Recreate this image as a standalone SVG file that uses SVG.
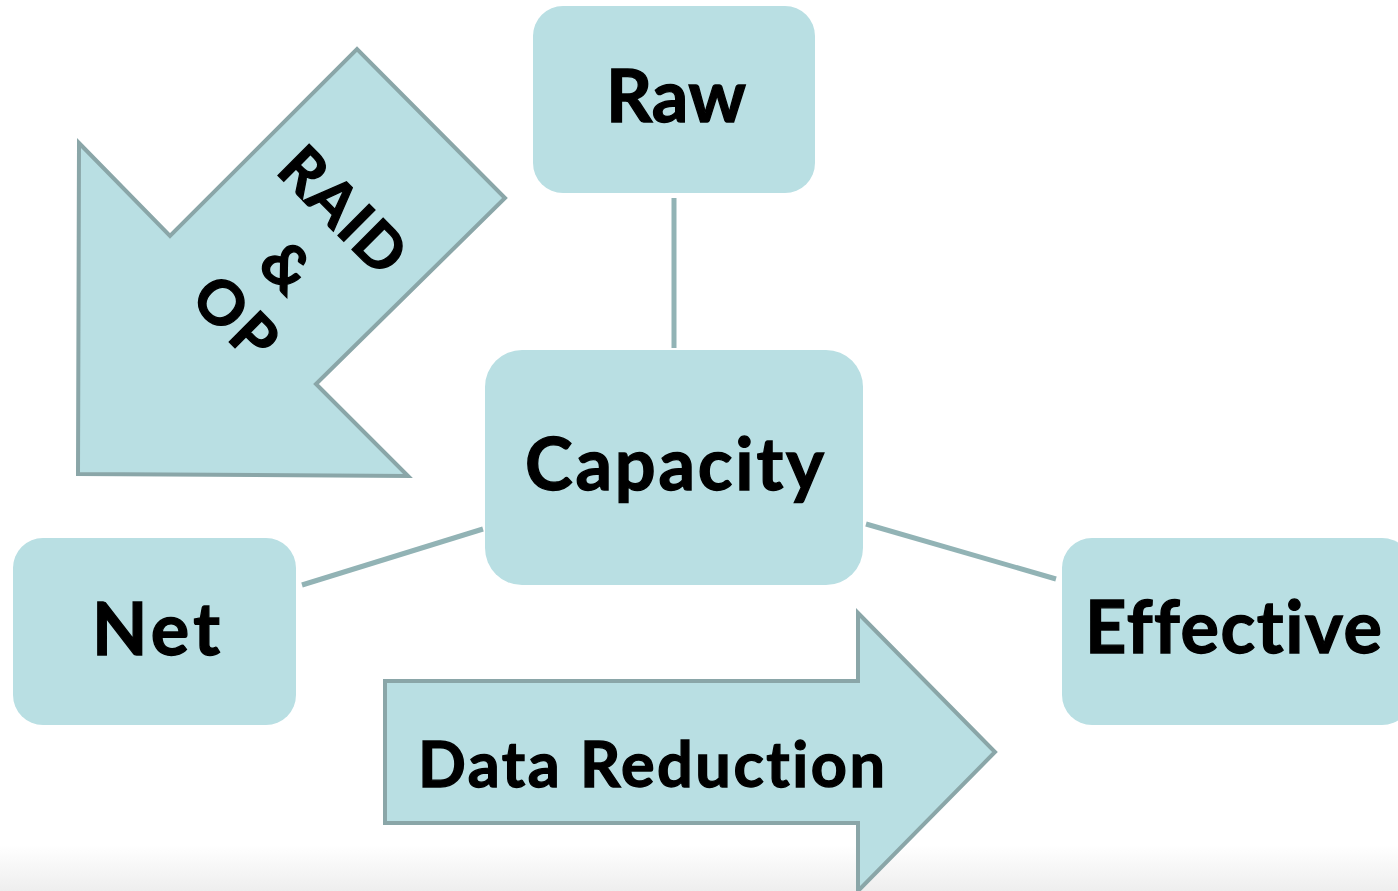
<svg xmlns="http://www.w3.org/2000/svg" width="1398" height="891" viewBox="0 0 1398 891">
  <defs>
    <linearGradient id="floor" x1="0" y1="0" x2="0" y2="1">
      <stop offset="0" stop-color="#ffffff"/>
      <stop offset="1" stop-color="#eeeeee"/>
    </linearGradient>
    <style>
      .box { fill: #b9dfe3; }
      .arrow { fill: #b9dfe3; stroke: #8aa6a8; stroke-width: 4; stroke-linejoin: miter; }
      .conn { stroke: #92b3b5; stroke-width: 5; fill: none; }
      .lbl { font-family: Lato, "Open Sans", "Liberation Sans", sans-serif; font-weight: 700; fill: #000000; stroke: #000000; stroke-width: 1.3; text-anchor: middle; letter-spacing: 1px; font-variant-ligatures: none; font-feature-settings: "liga" 0, "dlig" 0, "clig" 0; }
    </style>
  </defs>
  <rect x="0" y="0" width="1398" height="891" fill="#ffffff"/>
  <rect x="0" y="845" width="1398" height="46" fill="url(#floor)"/>

  <g id="connectors">
    <line class="conn" x1="674" y1="198" x2="674" y2="348"/>
    <line class="conn" x1="302" y1="585" x2="483" y2="529"/>
    <line class="conn" x1="866" y1="524" x2="1056" y2="579"/>
  </g>

  <g id="raid-op-arrow">
    <polygon class="arrow" points="79,143 170,236 357,49 505,198 316,384 408,476 78,474"/>
    <g transform="translate(343,211) rotate(45)">
      <text class="lbl" x="0" y="21" font-size="61" textLength="152">RAID</text>
      <text class="lbl" x="0" y="101" font-size="61">&amp;</text>
      <text class="lbl" x="0" y="173" font-size="61" textLength="92">OP</text>
    </g>
  </g>

  <g id="data-reduction-arrow">
    <polygon class="arrow" points="385,681 858,681 858,613 995,752 858,891 858,823 385,823"/>
    <text class="lbl" x="652" y="787" font-size="63" textLength="468">Data Reduction</text>
  </g>

  <g id="raw">
    <rect class="box" x="533" y="6" width="282" height="187" rx="30" ry="30"/>
    <text class="lbl" x="676.5" y="122" font-size="72" textLength="141">Raw</text>
  </g>

  <g id="capacity">
    <rect class="box" x="485" y="350" width="378" height="235" rx="37" ry="37"/>
    <text class="lbl" x="675" y="490" font-size="72" textLength="300">Capacity</text>
  </g>

  <g id="net">
    <rect class="box" x="13" y="538" width="283" height="187" rx="30" ry="30"/>
    <text class="lbl" x="156.5" y="655" font-size="72" textLength="129">Net</text>
  </g>

  <g id="effective">
    <rect class="box" x="1062" y="538" width="350" height="187" rx="30" ry="30"/>
    <text class="lbl" x="1234" y="653" font-size="72" textLength="298">Effective</text>
  </g>
</svg>
